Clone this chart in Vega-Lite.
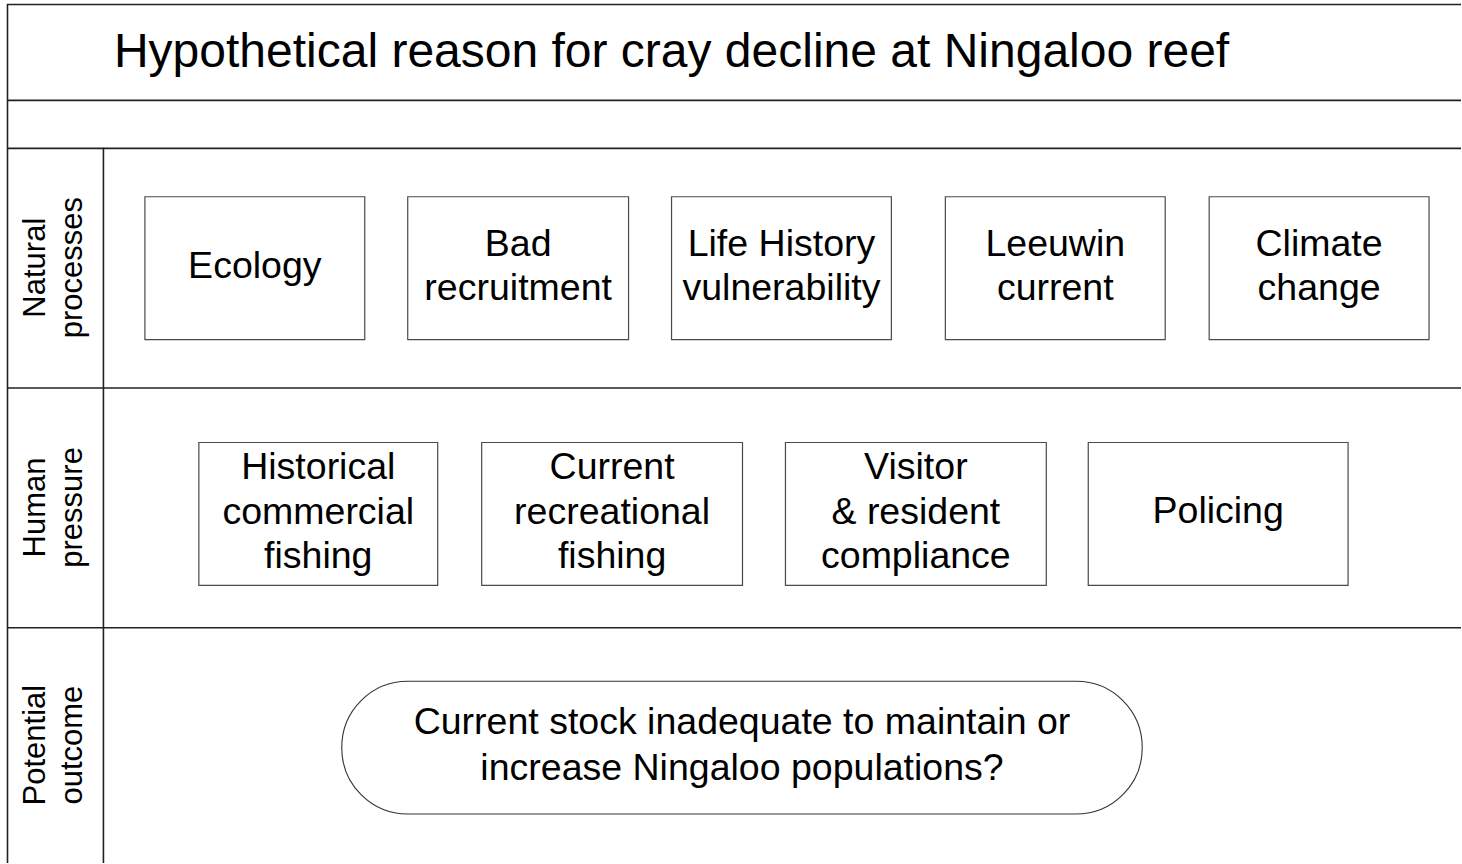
{
  "$schema": "https://vega.github.io/schema/vega-lite/v6.json",
  "width": 1462,
  "height": 864,
  "autosize": {"type": "fit", "contains": "padding"},
  "padding": 0,
  "background": "white",
  "config": {"view": {"stroke": null}},
  "datasets": {
    "lines": [
      {"x": 7, "x2": 1462, "y": 4.5, "y2": 4.5},
      {"x": 7, "x2": 1462, "y": 100.5, "y2": 100.5},
      {"x": 7, "x2": 1462, "y": 148.5, "y2": 148.5},
      {"x": 7, "x2": 1462, "y": 388.5, "y2": 388.5},
      {"x": 7, "x2": 1462, "y": 628.5, "y2": 628.5},
      {"x": 7.5, "x2": 7.5, "y": 4, "y2": 864},
      {"x": 103.5, "x2": 103.5, "y": 148, "y2": 864}
    ],
    "boxes": [
      {"x": 145, "x2": 365, "y": 197, "y2": 340, "cx": 255, "cy": 267, "label": "Ecology"},
      {"x": 408, "x2": 629, "y": 197, "y2": 340, "cx": 518.5, "cy": 245, "label": "Bad\nrecruitment"},
      {"x": 672, "x2": 892, "y": 197, "y2": 340, "cx": 782, "cy": 245, "label": "Life History\nvulnerability"},
      {"x": 946, "x2": 1166, "y": 197, "y2": 340, "cx": 1056, "cy": 245, "label": "Leeuwin\ncurrent"},
      {"x": 1210, "x2": 1430, "y": 197, "y2": 340, "cx": 1320, "cy": 245, "label": "Climate\nchange"},
      {"x": 199, "x2": 438, "y": 443, "y2": 586, "cx": 318.5, "cy": 469, "label": "Historical\ncommercial\nfishing"},
      {"x": 482, "x2": 743, "y": 443, "y2": 586, "cx": 612.5, "cy": 469, "label": "Current\nrecreational\nfishing"},
      {"x": 786, "x2": 1047, "y": 443, "y2": 586, "cx": 916.5, "cy": 469, "label": "Visitor\n& resident\ncompliance"},
      {"x": 1089, "x2": 1349, "y": 443, "y2": 586, "cx": 1219, "cy": 513, "label": "Policing"}
    ],
    "pill": [
      {"x": 342, "x2": 1143, "y": 682, "y2": 815, "cx": 742.5, "cy": 724, "label": "Current stock inadequate to maintain or\nincrease Ningaloo populations?"}
    ],
    "rows": [
      {"cx": 36, "cy": 268, "label": "Natural\nprocesses"},
      {"cx": 36, "cy": 508, "label": "Human\npressure"},
      {"cx": 36, "cy": 746, "label": "Potential\noutcome"}
    ],
    "title": [
      {"cx": 114, "cy": 67, "label": "Hypothetical reason for cray decline at Ningaloo reef"}
    ]
  },
  "layer": [
    {
      "data": {"name": "lines"},
      "mark": {"type": "rule", "stroke": "#222222", "strokeWidth": 1.6},
      "encoding": {
        "x": {"field": "x", "type": "quantitative", "scale": {"domain": [0, 1462], "nice": false, "zero": false}, "axis": null},
        "x2": {"field": "x2"},
        "y": {"field": "y", "type": "quantitative", "scale": {"domain": [0, 864], "nice": false, "zero": false, "reverse": true}, "axis": null},
        "y2": {"field": "y2"}
      }
    },
    {
      "data": {"name": "boxes"},
      "mark": {"type": "rect", "fill": "white", "stroke": "#4a4a4a", "strokeWidth": 1.2},
      "encoding": {
        "x": {"field": "x", "type": "quantitative", "scale": {"domain": [0, 1462], "nice": false, "zero": false}, "axis": null},
        "x2": {"field": "x2"},
        "y": {"field": "y", "type": "quantitative", "scale": {"domain": [0, 864], "nice": false, "zero": false, "reverse": true}, "axis": null},
        "y2": {"field": "y2"}
      }
    },
    {
      "data": {"name": "pill"},
      "mark": {"type": "rect", "fill": "white", "stroke": "#333333", "strokeWidth": 1.1, "cornerRadius": 66},
      "encoding": {
        "x": {"field": "x", "type": "quantitative", "scale": {"domain": [0, 1462], "nice": false, "zero": false}, "axis": null},
        "x2": {"field": "x2"},
        "y": {"field": "y", "type": "quantitative", "scale": {"domain": [0, 864], "nice": false, "zero": false, "reverse": true}, "axis": null},
        "y2": {"field": "y2"}
      }
    },
    {
      "data": {"name": "boxes"},
      "mark": {"type": "text", "font": "Liberation Sans", "fontSize": 37.5, "lineHeight": 44.5, "lineBreak": "\n", "align": "center", "baseline": "middle", "color": "black"},
      "encoding": {
        "x": {"field": "cx", "type": "quantitative", "scale": {"domain": [0, 1462], "nice": false, "zero": false}, "axis": null},
        "y": {"field": "cy", "type": "quantitative", "scale": {"domain": [0, 864], "nice": false, "zero": false, "reverse": true}, "axis": null},
        "text": {"field": "label", "type": "nominal"}
      }
    },
    {
      "data": {"name": "pill"},
      "mark": {"type": "text", "font": "Liberation Sans", "fontSize": 37.5, "lineHeight": 46, "lineBreak": "\n", "align": "center", "baseline": "middle", "color": "black"},
      "encoding": {
        "x": {"field": "cx", "type": "quantitative", "scale": {"domain": [0, 1462], "nice": false, "zero": false}, "axis": null},
        "y": {"field": "cy", "type": "quantitative", "scale": {"domain": [0, 864], "nice": false, "zero": false, "reverse": true}, "axis": null},
        "text": {"field": "label", "type": "nominal"}
      }
    },
    {
      "data": {"name": "rows"},
      "mark": {"type": "text", "font": "Liberation Sans", "fontSize": 31, "lineHeight": 37, "lineBreak": "\n", "align": "center", "baseline": "middle", "angle": 270, "color": "black"},
      "encoding": {
        "x": {"field": "cx", "type": "quantitative", "scale": {"domain": [0, 1462], "nice": false, "zero": false}, "axis": null},
        "y": {"field": "cy", "type": "quantitative", "scale": {"domain": [0, 864], "nice": false, "zero": false, "reverse": true}, "axis": null},
        "text": {"field": "label", "type": "nominal"}
      }
    },
    {
      "data": {"name": "title"},
      "mark": {"type": "text", "font": "Liberation Sans", "fontSize": 48, "align": "left", "baseline": "alphabetic", "color": "black"},
      "encoding": {
        "x": {"field": "cx", "type": "quantitative", "scale": {"domain": [0, 1462], "nice": false, "zero": false}, "axis": null},
        "y": {"field": "cy", "type": "quantitative", "scale": {"domain": [0, 864], "nice": false, "zero": false, "reverse": true}, "axis": null},
        "text": {"field": "label", "type": "nominal"}
      }
    }
  ]
}
